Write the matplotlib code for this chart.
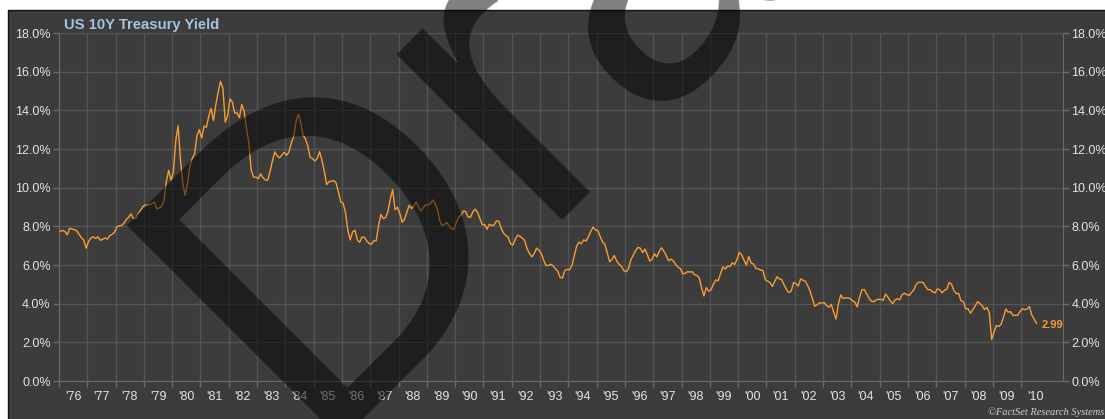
import numpy as np
import matplotlib
matplotlib.use("Agg")
import matplotlib.pyplot as plt
from matplotlib.patches import Rectangle
from matplotlib.ticker import FuncFormatter

plt.rcParams['font.family'] = ['Liberation Sans', 'DejaVu Sans']

# monthly 10y yields (%), Jan 1976 .. Jul 2010
start_year = 1976
yields_1970s = [
    7.74, 7.79, 7.73, 7.56, 7.90, 7.86, 7.83, 7.77, 7.59, 7.41, 7.29, 6.87,
    7.21, 7.39, 7.46, 7.37, 7.46, 7.28, 7.33, 7.40, 7.34, 7.52, 7.58, 7.69,
    7.96, 8.03, 8.04, 8.15, 8.35, 8.46, 8.64, 8.41, 8.42, 8.64, 8.81, 9.01,
    9.10, 9.10, 9.12, 9.18, 9.25, 8.91, 8.95, 9.03, 9.33, 10.30, 10.90, 10.39,
]
yields_1980s = [
    10.80, 12.41, 13.20, 11.47, 10.18, 9.60, 10.25, 11.10, 11.51, 11.75, 12.68, 13.00,
    12.57, 13.19, 13.12, 13.68, 14.10, 13.47, 14.28, 14.94, 15.50, 15.15, 13.39, 13.72,
    14.59, 14.43, 13.86, 13.87, 13.62, 14.30, 13.95, 13.06, 12.34, 10.91, 10.55, 10.54,
    10.46, 10.72, 10.51, 10.40, 10.38, 10.85, 11.38, 11.85, 11.65, 11.54, 11.69, 11.83,
    11.67, 11.84, 12.32, 12.63, 13.41, 13.80, 13.36, 12.72, 12.52, 12.16, 11.57, 11.50,
    11.38, 11.51, 11.86, 11.43, 10.85, 10.16, 10.31, 10.33, 10.37, 10.24, 9.78, 9.26,
    9.19, 8.70, 7.78, 7.30, 7.71, 7.80, 7.30, 7.17, 7.45, 7.43, 7.25, 7.11,
    7.08, 7.25, 7.25, 8.02, 8.61, 8.40, 8.45, 8.76, 9.42, 9.90, 8.86, 8.99,
    8.67, 8.21, 8.37, 8.72, 9.09, 8.92, 9.06, 9.26, 8.98, 8.80, 8.96, 9.11,
    9.09, 9.17, 9.36, 9.18, 8.86, 8.28, 8.02, 8.11, 8.19, 8.01, 7.87, 7.84,
]
yields_1990s = [
    8.21, 8.47, 8.59, 8.79, 8.76, 8.48, 8.47, 8.75, 8.89, 8.72, 8.39, 8.08,
    8.09, 7.85, 8.11, 8.04, 8.07, 8.28, 8.27, 7.90, 7.65, 7.53, 7.42, 7.09,
    7.03, 7.34, 7.54, 7.48, 7.39, 7.26, 6.84, 6.59, 6.42, 6.59, 6.87, 6.77,
    6.60, 6.26, 5.98, 5.97, 6.04, 5.96, 5.81, 5.68, 5.36, 5.33, 5.72, 5.77,
    5.75, 5.97, 6.48, 6.97, 7.18, 7.10, 7.30, 7.24, 7.46, 7.74, 7.96, 7.81,
    7.78, 7.47, 7.20, 7.06, 6.63, 6.17, 6.28, 6.49, 6.20, 6.04, 5.93, 5.71,
    5.65, 5.81, 6.27, 6.51, 6.74, 6.91, 6.87, 6.64, 6.83, 6.53, 6.20, 6.30,
    6.58, 6.42, 6.69, 6.89, 6.71, 6.49, 6.22, 6.30, 6.21, 6.03, 5.88, 5.81,
    5.54, 5.57, 5.65, 5.64, 5.65, 5.50, 5.46, 5.34, 4.81, 4.40, 4.83, 4.65,
    4.72, 5.00, 5.23, 5.18, 5.54, 5.90, 5.79, 5.94, 5.92, 6.11, 6.03, 6.28,
]
yields_2000s = [
    6.66, 6.52, 6.26, 5.99, 6.44, 6.10, 6.05, 5.83, 5.80, 5.74, 5.72, 5.24,
    5.16, 5.10, 4.89, 5.14, 5.39, 5.28, 5.24, 4.97, 4.73, 4.57, 4.65, 5.09,
    5.04, 4.91, 5.28, 5.21, 5.16, 4.93, 4.65, 4.26, 3.87, 3.94, 4.05, 4.03,
    4.05, 3.90, 3.81, 3.96, 3.57, 3.20, 3.98, 4.45, 4.27, 4.29, 4.30, 4.27,
    4.15, 4.08, 3.83, 4.35, 4.72, 4.73, 4.50, 4.28, 4.13, 4.10, 4.19, 4.23,
    4.22, 4.17, 4.50, 4.34, 4.14, 4.00, 4.18, 4.26, 4.20, 4.46, 4.54, 4.47,
    4.42, 4.57, 4.72, 4.99, 5.11, 5.11, 5.09, 4.88, 4.72, 4.73, 4.60, 4.56,
    4.76, 4.72, 4.56, 4.69, 4.75, 5.10, 5.00, 4.67, 4.52, 4.53, 4.15, 4.10,
    3.74, 3.74, 3.51, 3.68, 3.88, 4.10, 4.01, 3.89, 3.69, 3.81, 3.53, 2.15,
    2.52, 2.87, 2.82, 2.93, 3.29, 3.72, 3.56, 3.59, 3.40, 3.39, 3.40, 3.59,
]
yields_2010 = [3.73, 3.69, 3.73, 3.85, 3.42, 3.20, 2.99]

years = list(range(1976, 2011))
year_labels = ["'%02d" % (y % 100) for y in years]
title = "US 10Y Treasury Yield"
credit = "\u00a9FactSet Research Systems"

values = np.array(yields_1970s + yields_1980s + yields_1990s + yields_2000s + yields_2010)
t = start_year + (np.arange(len(values)) + 0.5) / 12.0

bg = '#3c3c3c'
grid_c = '#555555'
axis_c = '#6a6a6a'
txt_c = '#e4e4e4'
orange = '#f99d32'

fig = plt.figure(figsize=(11.05, 4.19), dpi=100)
fig.patch.set_facecolor('white')
fig.patches.append(Rectangle((8 / 1105, -0.02), 1.0, 0.02 + 409 / 419,
                             transform=fig.transFigure, facecolor=bg,
                             edgecolor='#111111', lw=1.0, zorder=-10))

ax = fig.add_axes([59 / 1105, 38 / 419, (1063 - 59) / 1105, (381 - 33) / 419])
ax.set_facecolor(bg)
ax.plot(t, values, color=orange, lw=1.0, zorder=3)

ax.set_xlim(1976, 2011.48)
ax.set_ylim(0, 18)

ax.set_xticks(years)
ax.set_xticklabels([])
ax.set_xticks(np.array(years) + 0.5, minor=True)
ax.set_xticklabels(year_labels, minor=True)
ax.tick_params(axis='x', which='major', length=4, width=1, color=axis_c, direction='out')
ax.tick_params(axis='x', which='minor', length=0, pad=7, labelsize=9, labelcolor=txt_c)

ax.set_yticks(np.arange(0, 19, 2))
ax.yaxis.set_major_formatter(FuncFormatter(lambda v, p: '%.1f%%' % v))
ax.tick_params(axis='y', left=True, right=True, labelleft=True, labelright=True,
               length=4, width=1, color=axis_c, labelsize=9, labelcolor=txt_c, pad=2)

ax.grid(True, which='major', color=grid_c, lw=1.0)
ax.set_axisbelow(True)
for s in ['left', 'right', 'bottom']:
    ax.spines[s].set_color(axis_c)
ax.spines['top'].set_visible(False)

ax.annotate('%.2f' % values[-1], (t[-1], values[-1]), xytext=(4, -1),
            textcoords='offset points', va='center', ha='left',
            fontsize=8, fontweight='bold', color=orange)

fig.text(64 / 1105, 1 - 29 / 419, title, fontsize=10.7, fontweight='bold',
         color='#a6c2de', va='baseline', ha='left')
fig.text(1104 / 1105, 1 - 415 / 419, credit, fontsize=7.5, style='italic',
         family='Liberation Serif', color='#d0d0d0', ha='right', va='baseline')

# watermark over everything
fig.text(306 / 1105, 1 - 440 / 419, 'Draft', rotation=45, rotation_mode='anchor',
         ha='left', va='baseline', fontsize=318, color='black', alpha=0.5, zorder=20)

fig.savefig('out.png', dpi=100)
